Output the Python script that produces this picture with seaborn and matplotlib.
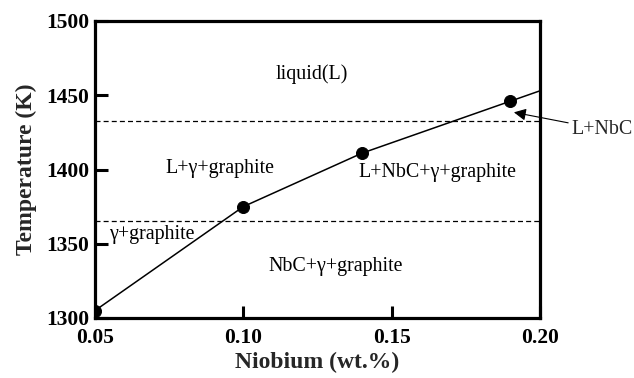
import matplotlib
matplotlib.use("Agg")
import matplotlib.pyplot as plt
import seaborn as sns
import pandas as pd

# Data
nb_points = [0.05, 0.10, 0.14, 0.19]
temp_points = [1305, 1375, 1411, 1446]
line_nb = [0.05, 0.10, 0.14, 0.19, 0.20]
line_temp = [1305, 1375, 1411, 1446, 1453]
dashed_levels = [1432.5, 1365.5]
x_ticks = [0.05, 0.10, 0.15, 0.20]
x_ticklabels = ["0.05", "0.10", "0.15", "0.20"]
y_ticks = [1300, 1350, 1400, 1450, 1500]
region_labels = ["liquid(L)", "L+γ+graphite", "L+NbC+γ+graphite", "γ+graphite", "NbC+γ+graphite"]
region_x = [0.123, 0.092, 0.1655, 0.069, 0.131]
region_y = [1464, 1401, 1398, 1356, 1335]

sns.set_theme(style="white")
plt.rcParams["font.family"] = ["Liberation Serif", "DejaVu Serif"]

fig = plt.figure(figsize=(6.34, 3.78), dpi=100)
ax = fig.add_axes([95/634, 1 - 318/378, (540-95)/634, (318-21)/378])

df_line = pd.DataFrame({"nb": line_nb, "T": line_temp})
df_pts = pd.DataFrame({"nb": nb_points, "T": temp_points})
sns.lineplot(data=df_line, x="nb", y="T", ax=ax, color="black", linewidth=1.1, sort=False)
sns.scatterplot(data=df_pts, x="nb", y="T", ax=ax, color="black", s=75, edgecolor="black", zorder=5)

for lv in dashed_levels:
    ax.axhline(lv, color="black", linestyle=(0, (4, 2.5)), linewidth=0.9)

ax.set_xlim(0.05, 0.20)
ax.set_ylim(1300, 1500)
ax.set_xticks(x_ticks)
ax.set_xticklabels(x_ticklabels)
ax.set_yticks(y_ticks)

for sp in ax.spines.values():
    sp.set_visible(True)
    sp.set_color("black")
    sp.set_linewidth(2.3)

ax.tick_params(axis="both", direction="in", length=9, width=2.2, colors="black",
               labelsize=15.5, bottom=True, left=True, top=False, right=False)
ax.tick_params(axis="x", pad=7)
ax.tick_params(axis="y", pad=4)
for lab in ax.get_xticklabels() + ax.get_yticklabels():
    lab.set_fontweight("bold")

ax.set_xlabel("Niobium (wt.%)", fontsize=17, fontweight="bold", labelpad=3)
ax.set_ylabel("Temperature (K)", fontsize=17, fontweight="bold", labelpad=7)

for t, x, y in zip(region_labels, region_x, region_y):
    ax.text(x, y, t, fontsize=14.4, ha="center", va="center", color="black")

ax.annotate("L+NbC", xy=(0.1912, 1438.5), xytext=(0.2106, 1427),
            textcoords="data", fontsize=14.4, ha="left", va="center", annotation_clip=False,
            arrowprops=dict(arrowstyle="-|>", color="black", lw=0.8, mutation_scale=18,
                            shrinkA=0, shrinkB=0))

fig.savefig("out.png", dpi=100)
